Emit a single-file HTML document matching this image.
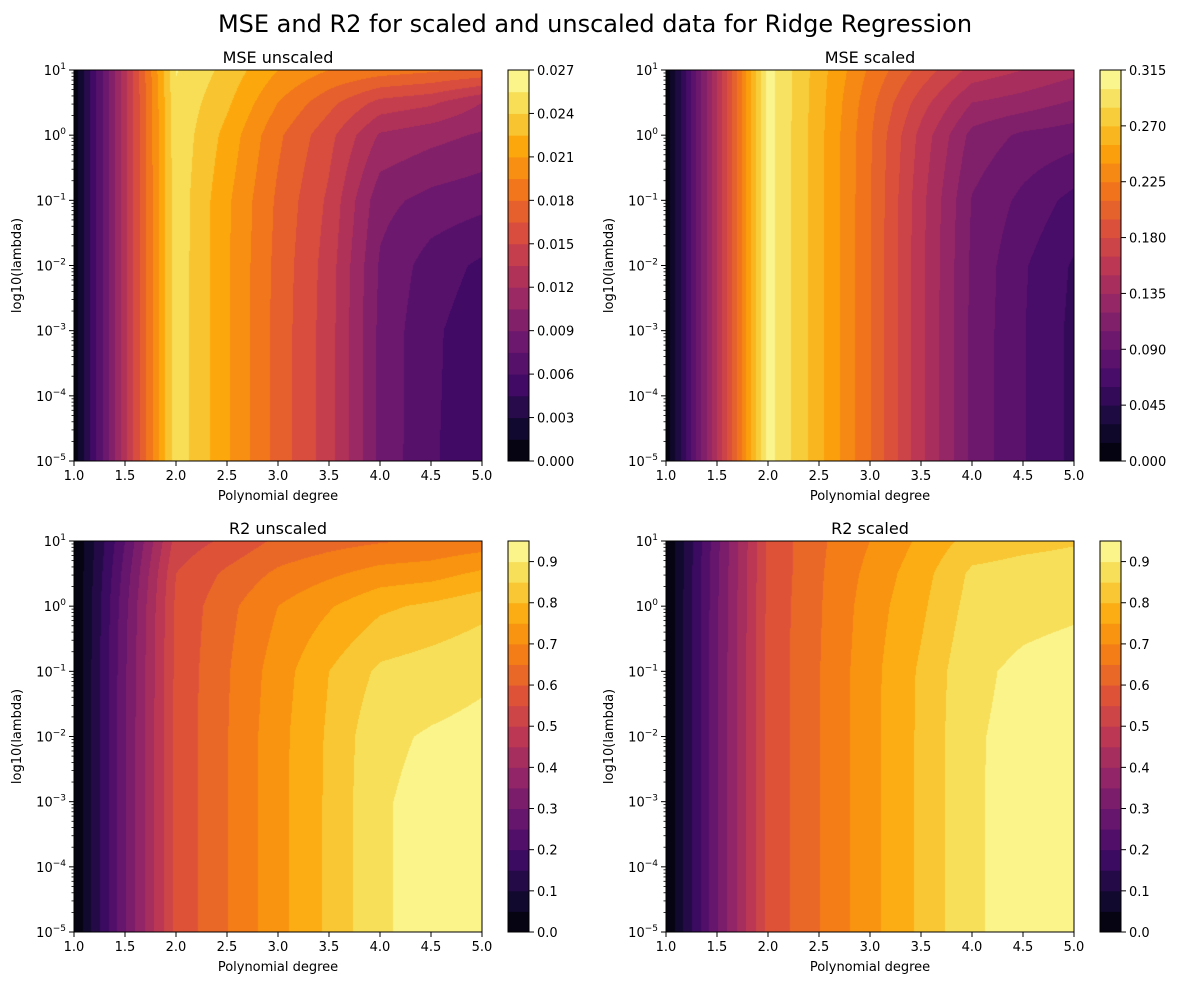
<!DOCTYPE html>
<html><head><meta charset="utf-8"><style>
body{margin:0;background:#fff;width:1178px;height:985px;overflow:hidden;position:relative;font-family:"DejaVu Sans","Liberation Sans",sans-serif;}
canvas{position:absolute;}
svg{position:absolute;left:0;top:0;}
</style></head><body>
<div id="root"></div>
<script>
const degrees=[1,1.5,2,2.5,3,3.5,4,4.5,5];
const logLambdas=[-5,-3,-2,-1,0,0.5,1];
const mseUnscaled=[
[0.0005,0.013,0.025,0.0212,0.0174,0.0142,0.0086,0.0062,0.0050],
[0.0005,0.013,0.025,0.0212,0.0174,0.0142,0.0086,0.0063,0.0051],
[0.0005,0.013,0.025,0.0212,0.0175,0.0143,0.0088,0.0068,0.0057],
[0.0005,0.013,0.025,0.0213,0.0177,0.0147,0.0095,0.0085,0.0080],
[0.0005,0.013,0.0251,0.022,0.0183,0.0155,0.0118,0.011,0.0103],
[0.0005,0.013,0.0252,0.0228,0.0195,0.017,0.0145,0.0138,0.0120],
[0.0005,0.013,0.0256,0.0235,0.021,0.0195,0.0188,0.0183,0.0178]];
const mseScaled=[
[0.003,0.15,0.306,0.26,0.211,0.154,0.101,0.076,0.056],
[0.003,0.15,0.306,0.26,0.211,0.154,0.101,0.076,0.056],
[0.003,0.15,0.306,0.26,0.211,0.154,0.102,0.077,0.058],
[0.003,0.15,0.306,0.26,0.211,0.155,0.104,0.086,0.070],
[0.003,0.15,0.306,0.26,0.212,0.16,0.115,0.102,0.097],
[0.003,0.15,0.306,0.261,0.215,0.172,0.135,0.128,0.118],
[0.003,0.15,0.306,0.262,0.222,0.19,0.16,0.15,0.14]];
const r2Unscaled=[
[0.0,0.295,0.565,0.648,0.733,0.81,0.895,0.915,0.93],
[0.0,0.295,0.565,0.648,0.733,0.81,0.895,0.914,0.928],
[0.0,0.295,0.565,0.648,0.733,0.808,0.89,0.905,0.915],
[0.0,0.293,0.563,0.645,0.725,0.80,0.86,0.875,0.89],
[0.0,0.285,0.56,0.635,0.70,0.745,0.79,0.81,0.835],
[0.0,0.27,0.55,0.61,0.66,0.69,0.72,0.73,0.76],
[0.0,0.25,0.52,0.56,0.61,0.63,0.645,0.655,0.67]];
const r2Scaled=[
[0.0,0.295,0.565,0.648,0.733,0.81,0.895,0.915,0.93],
[0.0,0.295,0.565,0.648,0.733,0.81,0.895,0.915,0.93],
[0.0,0.295,0.565,0.648,0.733,0.81,0.895,0.913,0.925],
[0.0,0.295,0.565,0.648,0.733,0.808,0.89,0.91,0.92],
[0.0,0.293,0.563,0.645,0.725,0.79,0.87,0.885,0.892],
[0.0,0.29,0.56,0.643,0.715,0.78,0.86,0.87,0.875],
[0.0,0.285,0.56,0.64,0.70,0.76,0.82,0.835,0.845]];
const xTickLabels=['1.0','1.5','2.0','2.5','3.0','3.5','4.0','4.5','5.0'];
const yTickExps=['−5','−4','−3','−2','−1','0','1'];
const mseUnscaledTicks=['0.000','0.003','0.006','0.009','0.012','0.015','0.018','0.021','0.024','0.027'];
const mseScaledTicks=['0.000','0.045','0.090','0.135','0.180','0.225','0.270','0.315'];
const r2Ticks=['0.0','0.1','0.2','0.3','0.4','0.5','0.6','0.7','0.8','0.9'];

const infernoStops=['000004','160b39','420a68','6a176e','932667','bc3754','dd513a','f37819','fca50a','f6d746','fcffa4'];
function inferno(t){t=Math.max(0,Math.min(1,t));const s=t*10,i=Math.min(9,Math.floor(s)),f=s-i;
 const a=infernoStops[i],b=infernoStops[i+1];return [0,2,4].map(k=>Math.round(parseInt(a.substr(k,2),16)*(1-f)+parseInt(b.substr(k,2),16)*f));}
function interp(Z,xd,yl){
 let i=0;while(i<degrees.length-2&&xd>degrees[i+1])i++;
 let j=0;while(j<logLambdas.length-2&&yl>logLambdas[j+1])j++;
 const fx=(xd-degrees[i])/(degrees[i+1]-degrees[i]),fy=(yl-logLambdas[j])/(logLambdas[j+1]-logLambdas[j]);
 return Z[j][i]*(1-fx)*(1-fy)+Z[j][i+1]*fx*(1-fy)+Z[j+1][i]*(1-fx)*fy+Z[j+1][i+1]*fx*fy;}

const panels=[
 {name:'mse-unscaled',title:'MSE unscaled',Z:mseUnscaled,step:0.0015,n:18,ticks:mseUnscaledTicks,tickStep:0.003,x:74,y:70,w:408,h:391,cbx:508},
 {name:'mse-scaled',title:'MSE scaled',Z:mseScaled,step:0.015,n:21,ticks:mseScaledTicks,tickStep:0.045,x:666,y:70,w:408,h:391,cbx:1100},
 {name:'r2-unscaled',title:'R2 unscaled',Z:r2Unscaled,step:0.05,n:19,ticks:r2Ticks,tickStep:0.1,x:74,y:541,w:408,h:391,cbx:508},
 {name:'r2-scaled',title:'R2 scaled',Z:r2Scaled,step:0.05,n:19,ticks:r2Ticks,tickStep:0.1,x:666,y:541,w:408,h:391,cbx:1100}];

const root=document.getElementById('root');
const NS='http://www.w3.org/2000/svg';
const svg=document.createElementNS(NS,'svg');
svg.setAttribute('width','1178');svg.setAttribute('height','985');


function el(tag,attrs,parent,text){const e=document.createElementNS(NS,tag);for(const k in attrs)e.setAttribute(k,attrs[k]);if(text!==undefined)e.textContent=text;(parent||svg).appendChild(e);return e;}

const sup=el('text',{x:595,y:32,'text-anchor':'middle','font-size':'24','fill':'#000'},svg,'MSE and R2 for scaled and unscaled data for Ridge Regression');



panels.forEach(p=>{
 const cv=document.createElement('canvas');
 cv.width=p.w;cv.height=p.h;cv.style.left=p.x+'px';cv.style.top=p.y+'px';
 
 
 root.appendChild(cv);
 const ctx=cv.getContext('2d');const img=ctx.createImageData(p.w,p.h);
 const cols=[];for(let k=0;k<p.n;k++)cols.push(inferno((k+0.5)/p.n));
 for(let py=0;py<p.h;py++){const yl=1-(py+0.5)/p.h*6;
  for(let px=0;px<p.w;px++){const xd=1+(px+0.5)/p.w*4;
   const v=interp(p.Z,xd,yl);let b=Math.floor(v/p.step);b=Math.max(0,Math.min(p.n-1,b));
   const c=cols[b];const o=(py*p.w+px)*4;img.data[o]=c[0];img.data[o+1]=c[1];img.data[o+2]=c[2];img.data[o+3]=255;}}
 ctx.putImageData(img,0,0);

 const g=el('g',{});
 
 
 const fr=el('rect',{x:p.x,y:p.y,width:p.w,height:p.h,fill:'none',stroke:'#000','stroke-width':1},g);
 
 
 const t=el('text',{x:p.x+p.w/2,y:p.y-7,'text-anchor':'middle','font-size':'16'},g,p.title);
 
 
 const xs=d=>p.x+(d-1)/4*p.w, ys=l=>p.y+(1-l)/6*p.h;
 xTickLabels.forEach((lab,k)=>{const xv=xs(1+k*0.5);
  el('line',{x1:xv,x2:xv,y1:p.y+p.h,y2:p.y+p.h+5,stroke:'#000'},g);
  const tl=el('text',{x:xv,y:p.y+p.h+19,'text-anchor':'middle','font-size':'13'},g,lab);
  
  });
 yTickExps.forEach((ex,k)=>{const l=-5+k;const yv=ys(l);
  el('line',{x1:p.x-5,x2:p.x,y1:yv,y2:yv,stroke:'#000'},g);
  const tl=el('text',{x:p.x-8,y:yv+5,'text-anchor':'end','font-size':'13'},g);
  
  
  el('tspan',{},tl,'10');el('tspan',{dy:-6,'font-size':'9'},tl,ex);
  if(l<1){for(let m=2;m<10;m++){const ym=ys(l+Math.log10(m));el('line',{x1:p.x-2.5,x2:p.x,y1:ym,y2:ym,stroke:'#000','stroke-width':0.8},g);}}});
 const xl=el('text',{x:p.x+p.w/2,y:p.y+p.h+39,'text-anchor':'middle','font-size':'13'},g,'Polynomial degree');
 
 
 const yl=el('text',{x:0,y:0,'text-anchor':'middle','font-size':'13',transform:`translate(${p.x-53},${p.y+p.h/2}) rotate(-90)`},g,'log10(lambda)');
 
 
 const cb=el('g',{},g);
 
 
 const cbw=21,top=p.n*p.step;
 const cy=v=>p.y+p.h-(v/top)*p.h;
 for(let k=0;k<p.n;k++){const r=el('rect',{x:p.cbx,y:cy((k+1)*p.step),width:cbw,height:cy(k*p.step)-cy((k+1)*p.step)+0.5,fill:'rgb('+inferno((k+0.5)/p.n).join(',')+')'},cb);
  
  }
 el('rect',{x:p.cbx,y:p.y,width:cbw,height:p.h,fill:'none',stroke:'#000'},cb);
 p.ticks.forEach((lab,k)=>{const yv=cy(k*p.tickStep);
  el('line',{x1:p.cbx+cbw,x2:p.cbx+cbw+5,y1:yv,y2:yv,stroke:'#000'},cb);
  const tl=el('text',{x:p.cbx+cbw+8,y:yv+5,'font-size':'13'},cb,lab);
  
  });
});
root.appendChild(svg);
</script>
</body></html>
